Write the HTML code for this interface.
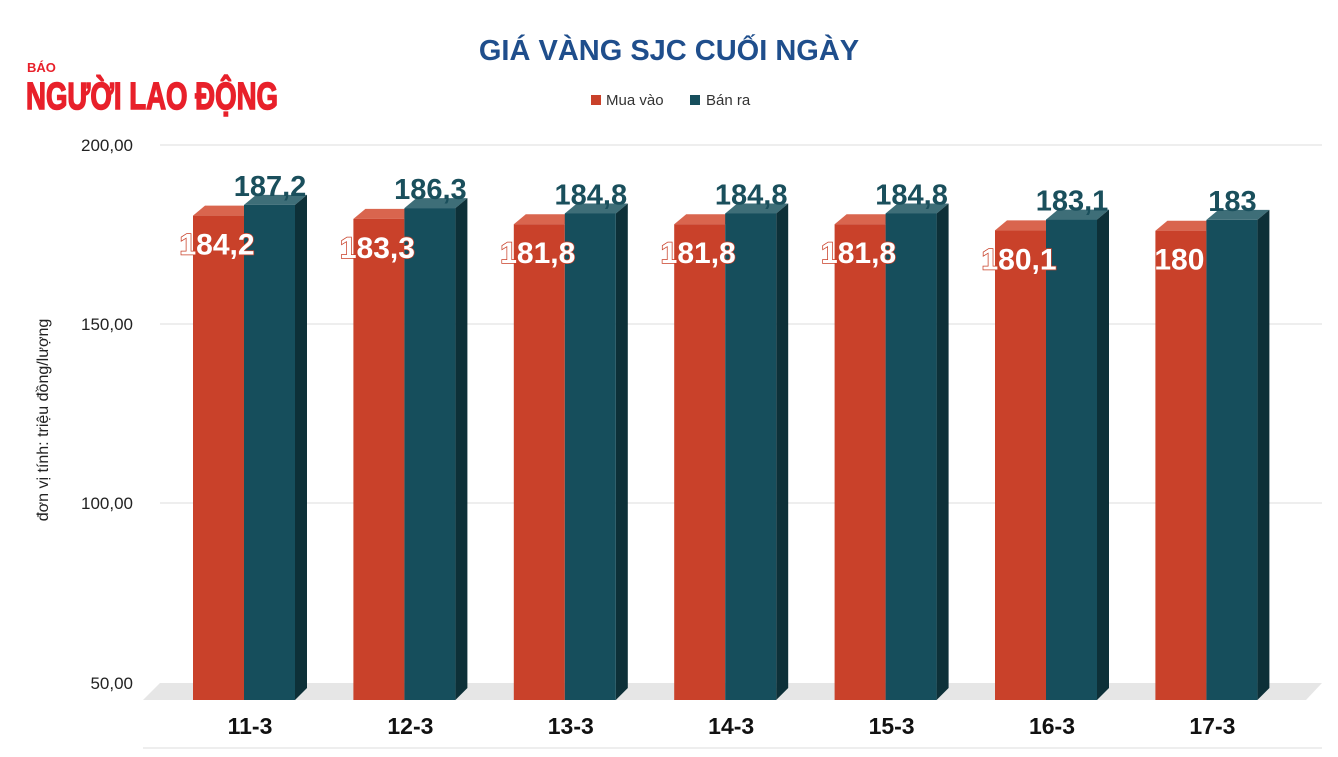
<!DOCTYPE html>
<html><head><meta charset="utf-8"><style>
body{margin:0;background:#fff;width:1338px;height:752px;overflow:hidden;font-family:"Liberation Sans",sans-serif}
</style></head><body>
<svg width="1338" height="752" xmlns="http://www.w3.org/2000/svg" font-family="Liberation Sans, sans-serif">
<text x="669" y="60" text-anchor="middle" font-size="29" font-weight="bold" fill="#1f4e8c">GIÁ VÀNG SJC CUỐI NGÀY</text>
<text x="27" y="72" font-size="13" font-weight="bold" fill="#e8202a">BÁO</text>
<text x="26" y="109" font-size="38" font-weight="bold" fill="#e8202a" stroke="#e8202a" stroke-width="1.5" textLength="252" lengthAdjust="spacingAndGlyphs">NGƯỜI LAO ĐỘNG</text>
<rect x="591" y="95" width="10" height="10" fill="#c9412a"/><text x="606" y="105" font-size="15" fill="#333">Mua vào</text>
<rect x="690" y="95" width="10" height="10" fill="#164e5c"/><text x="706" y="105" font-size="15" fill="#333">Bán ra</text>
<g stroke="#dcdcdc" stroke-width="1">
<line x1="160" y1="145" x2="1322" y2="145"/><line x1="160" y1="324" x2="1322" y2="324"/><line x1="160" y1="503" x2="1322" y2="503"/>
</g>
<polygon points="160,683 1322,683 1306,700 143,700" fill="#e6e6e6"/>
<g font-size="17" fill="#222" text-anchor="end">
<text x="133" y="151">200,00</text><text x="133" y="330">150,00</text><text x="133" y="509">100,00</text><text x="133" y="689">50,00</text>
</g>
<text transform="translate(48,420) rotate(-90)" text-anchor="middle" font-size="16" fill="#222">đơn vị tính: triệu đồng/lượng</text>
<line x1="143" y1="748" x2="1322" y2="748" stroke="#ddd"/>
<g id="bars"></g>
</svg>
<script>
const d=[["11-3",184.2,187.2,"184,2","187,2"],["12-3",183.3,186.3,"183,3","186,3"],["13-3",181.8,184.8,"181,8","184,8"],["14-3",181.8,184.8,"181,8","184,8"],["15-3",181.8,184.8,"181,8","184,8"],["16-3",180.1,183.1,"180,1","183,1"],["17-3",180,183,"180","183"]];
const Y=v=>683-(v-50)*3.587+4;let s="";
d.forEach((r,i)=>{const x=193+i*160.4;
const yr=Y(r[1]),yt=Y(r[2]);
s+=`<polygon points="${x},${yr+10} ${x+12},${yr} ${x+63},${yr} ${x+51},${yr+10}" fill="#d9654e"/>`;
s+=`<rect x="${x}" y="${yr+10}" width="51" height="${700-yr-10}" fill="#c9412a"/>`;
s+=`<polygon points="${x+51},${yt+10} ${x+63},${yt} ${x+114},${yt} ${x+102},${yt+10}" fill="#3e6e78"/>`;
s+=`<polygon points="${x+102},${yt+10} ${x+114},${yt} ${x+114},688 ${x+102},700" fill="#0d3038"/>`;
s+=`<rect x="${x+51}" y="${yt+10}" width="51" height="${700-yt-10}" fill="#164e5c"/>`;
s+=`<text x="${x+24}" y="${yr+49}" text-anchor="middle" font-size="30" font-weight="bold" fill="#fff" stroke="#c9412a" stroke-width="1.5" paint-order="stroke">${r[3]}</text>`;
s+=`<text x="${x+77}" y="${yt+1}" text-anchor="middle" font-size="29" font-weight="bold" fill="#1a4f5c">${r[4]}</text>`;
s+=`<text x="${x+57}" y="734" text-anchor="middle" font-size="23" font-weight="bold" fill="#111">${r[0]}</text>`;});
document.getElementById("bars").innerHTML=s;
</script>
</body></html>
